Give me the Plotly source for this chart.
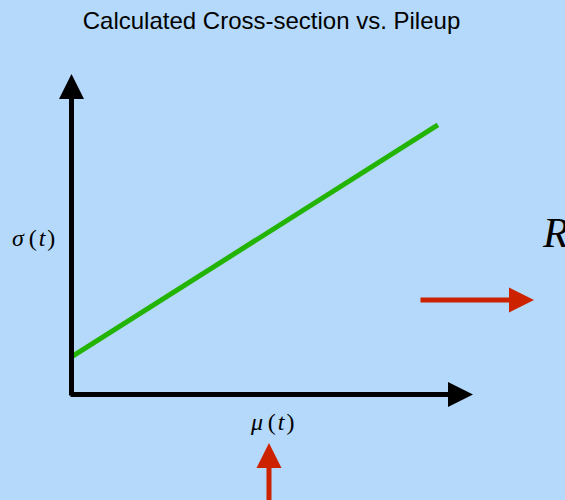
import plotly.graph_objects as go

# ---- data ----
mu = [0.0, 9.16]          # pileup axis values at line ends
sigma = [0.94, 6.74]      # calculated cross-section at line ends
title_text = "Calculated Cross-section vs. Pileup"
x_label = "<i>μ</i>\u2009(\u200a<i>t</i>\u200a)"
y_label = "<i>σ</i>\u2009(\u200a<i>t</i>\u200a)"
side_label = "<i>R</i>"

# ---- layout geometry (pixels) ----
W, H = 565, 500
PX = 40.0            # pixels per data unit
OX, OY = 71.5, 394.5 # pixel position of the axes origin


def dxp(p):
    return (p - OX) / PX


def dyp(p):
    return (OY - p) / PX


def px(p):
    return p / W


def py(p):
    return 1 - p / H


BG = "#b4d9fb"
GREEN = "#22b400"
RED = "#cc2200"
SERIF = "Liberation Serif, Times New Roman, serif"
SANS = "Liberation Sans, Arial, Helvetica, sans-serif"

fig = go.Figure()
fig.add_trace(go.Scatter(x=mu, y=sigma, mode="lines",
                         line=dict(color=GREEN, width=5),
                         hoverinfo="skip", showlegend=False))


def arrow(x0, y0, x1, y1, color):
    return dict(x=dxp(x1), y=dyp(y1), ax=dxp(x0), ay=dyp(y0), xref="x",
                yref="y", axref="x", ayref="y", text="", showarrow=True,
                arrowhead=2, arrowsize=1, arrowwidth=5, arrowcolor=color,
                standoff=0, startstandoff=0)


ann = [
    arrow(69, OY, 473, OY, "black"),
    arrow(OX, 397, OX, 74, "black"),
    arrow(419, 300, 534, 300, RED),
    arrow(269, 505, 269, 443, RED),
]
# labels
ann.append(dict(x=px(33), y=py(238), xref="paper", yref="paper",
                text=y_label, showarrow=False, xanchor="center",
                yanchor="middle", font=dict(family=SERIF, size=24, color="black")))
ann.append(dict(x=px(272), y=py(422), xref="paper", yref="paper",
                text=x_label, showarrow=False, xanchor="center",
                yanchor="middle", font=dict(family=SERIF, size=24, color="black")))
ann.append(dict(x=px(540), y=py(233), xref="paper", yref="paper",
                text=side_label, showarrow=False, xanchor="left",
                yanchor="middle", font=dict(family=SERIF, size=42, color="black")))

fig.update_layout(
    width=W, height=H,
    margin=dict(l=0, r=0, t=0, b=0, pad=0),
    paper_bgcolor=BG, plot_bgcolor=BG,
    title=dict(text=title_text, x=271.5 / W, xanchor="center",
               y=1 - 21 / H, yanchor="middle", yref="container",
               font=dict(family=SANS, size=24, color="black")),
    xaxis=dict(range=[dxp(0), dxp(W)], domain=[0, 1], visible=False,
               fixedrange=True),
    yaxis=dict(range=[dyp(H), dyp(0)], domain=[0, 1], visible=False,
               fixedrange=True),
    annotations=ann,
    showlegend=False,
)

fig.write_html(
    "out.html",
    config={"displayModeBar": False},
    post_script="document.body.style.margin='0';document.body.style.overflow='hidden';",
)
